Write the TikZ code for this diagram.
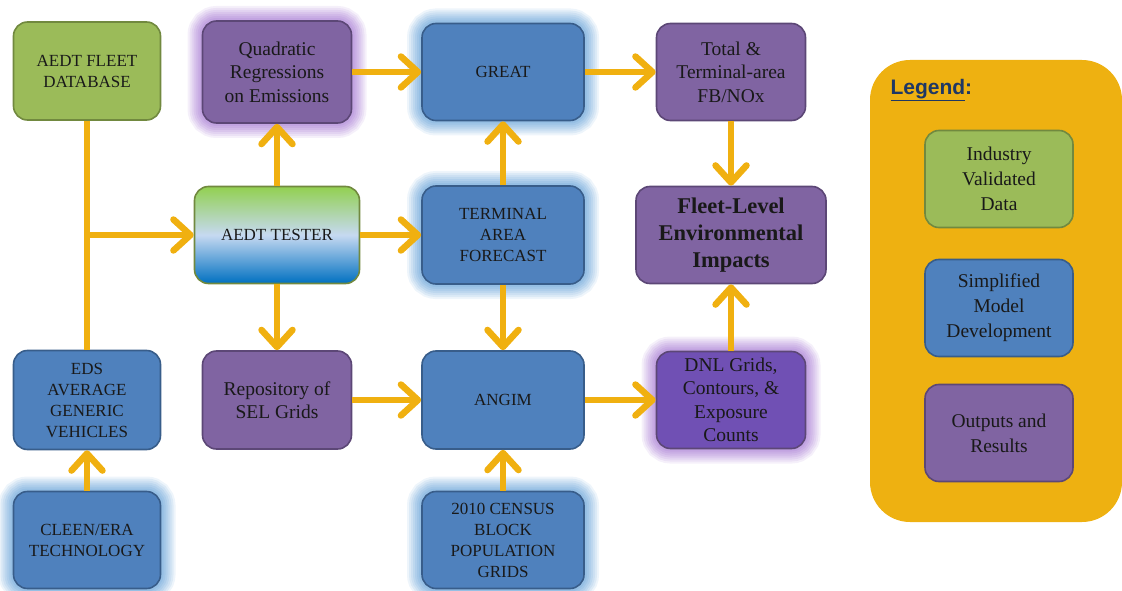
\documentclass[tikz,border=0pt]{standalone}
\usepackage{fontspec}
\setmainfont{Liberation Serif}
\newfontfamily\boxserif{Liberation Serif}
\newfontfamily\legendfont{Liberation Sans}
\usetikzlibrary{arrows.meta}
\definecolor{flowarrow}{HTML}{F0B010}
\definecolor{datagreen}{HTML}{9BBB59}
\definecolor{dataline}{HTML}{71893F}
\definecolor{modelblue}{HTML}{4F81BD}
\definecolor{modelline}{HTML}{385D8A}
\definecolor{outpurple}{HTML}{8064A2}
\definecolor{outline}{HTML}{5C4776}
\definecolor{dnlpurple}{HTML}{7050B4}
\definecolor{glowblue}{HTML}{5B9BD5}
\definecolor{glowpurple}{HTML}{A070D0}
\definecolor{legendback}{HTML}{EEB111}
\definecolor{legendink}{HTML}{1F3864}
\definecolor{testtop}{HTML}{92D050}
\definecolor{testmid}{HTML}{C6D9F1}
\definecolor{testbot}{HTML}{0070C0}
\newcommand{\capsfont}{\boxserif\fontsize{17}{21}\selectfont}
\newcommand{\boxfont}{\boxserif\fontsize{19.5}{23.5}\selectfont}
\newcommand{\keyfont}{\boxserif\fontsize{19.5}{25}\selectfont}

\begin{document}
\begin{tikzpicture}[
  x=1pt,
  y=-1pt,
  box/.style={rounded corners=14pt, line width=1.6pt, align=center,
    inner sep=2pt, text=black!90},
  databox/.style={box, fill=datagreen, draw=dataline},
  modelbox/.style={box, fill=modelblue, draw=modelline},
  outbox/.style={box, fill=outpurple, draw=outline},
  glowing/.style={
    preaction={draw=#1, line width=30pt, opacity=0.10},
    preaction={draw=#1, line width=26pt, opacity=0.12},
    preaction={draw=#1, line width=22pt, opacity=0.12},
    preaction={draw=#1, line width=18pt, opacity=0.14},
    preaction={draw=#1, line width=14pt, opacity=0.14},
    preaction={draw=#1, line width=10pt, opacity=0.16},
    preaction={draw=#1, line width=6pt, opacity=0.16}},
  flow/.style={draw=flowarrow, line width=6.5pt,
    -{Straight Barb[length=17pt, width=31pt, round]}}
]
  \useasboundingbox (0,0) rectangle (1122,591);

  % left column
  \node[databox, minimum width=147pt, minimum height=98pt, font=\capsfont]
    (fleetdb) at (87,71) {AEDT FLEET\\DATABASE};
  \node[modelbox, minimum width=147pt, minimum height=99pt, font=\capsfont]
    (eds) at (87,400) {EDS\\AVERAGE\\GENERIC\\VEHICLES};
  \node[modelbox, glowing=glowblue, minimum width=147pt, minimum height=97pt,
    font=\capsfont] (cleen) at (87,540) {CLEEN/ERA\\TECHNOLOGY};

  % second column
  \node[outbox, glowing=glowpurple, minimum width=149pt, minimum height=102pt,
    font=\boxfont] (quad) at (277,72) {Quadratic\\Regressions\\on Emissions};
  \node[box, draw=dataline, top color=testtop, bottom color=testbot,
    middle color=testmid, minimum width=165pt, minimum height=97pt,
    font=\capsfont] (tester) at (277,235) {AEDT TESTER};
  \node[outbox, minimum width=149pt, minimum height=98pt, font=\boxfont]
    (sel) at (277,400) {Repository of\\SEL Grids};

  % third column
  \node[modelbox, glowing=glowblue, minimum width=162pt, minimum height=97pt,
    font=\capsfont] (great) at (503,72) {GREAT};
  \node[modelbox, glowing=glowblue, minimum width=162pt, minimum height=98pt,
    font=\capsfont] (taf) at (503,235) {TERMINAL\\AREA\\FORECAST};
  \node[modelbox, minimum width=162pt, minimum height=98pt, font=\capsfont]
    (angim) at (503,400) {ANGIM};
  \node[modelbox, glowing=glowblue, minimum width=162pt, minimum height=97pt,
    font=\capsfont] (census) at (503,540) {2010 CENSUS\\BLOCK\\POPULATION\\GRIDS};

  % outputs
  \node[outbox, minimum width=149pt, minimum height=97pt, font=\boxfont]
    (total) at (731,72) {Total \&\\Terminal-area\\FB/NOx};
  \node[outbox, minimum width=190pt, minimum height=97pt,
    font=\boxserif\fontsize{22.5}{27}\selectfont\bfseries]
    (impacts) at (731,235) {Fleet-Level\\Environmental\\Impacts};
  \node[outbox, fill=dnlpurple, glowing=glowpurple, minimum width=149pt,
    minimum height=97pt, font=\boxfont]
    (dnl) at (731,400) {DNL Grids,\\Contours, \&\\Exposure\\Counts};

  % connectors
  \coordinate (split) at (fleetdb.south |- tester.west);
  \draw[draw=flowarrow, line width=6.5pt] (fleetdb.south) -- (eds.north);
  \draw[flow] (split) -- (tester.west);
  \draw[flow] (tester.north) -- (quad.south);
  \draw[flow] (tester.east) -- (taf.west);
  \draw[flow] (tester.south) -- (sel.north);
  \draw[flow] (quad.east) -- (great.west);
  \draw[flow] (great.east) -- (total.west);
  \draw[flow] (taf.north) -- (great.south);
  \draw[flow] (taf.south) -- (angim.north);
  \draw[flow] (sel.east) -- (angim.west);
  \draw[flow] (angim.east) -- (dnl.west);
  \draw[flow] (census.north) -- (angim.south);
  \draw[flow] (cleen.north) -- (eds.south);
  \draw[flow] (total.south) -- (impacts.north);
  \draw[flow] (dnl.north) -- (impacts.south);

  % legend
  \node[fill=legendback, rounded corners=40pt, minimum width=252pt,
    minimum height=462pt] (legend) at (996,291) {};
  \node[anchor=west, text=legendink, font=\legendfont\fontsize{21}{24}\selectfont\bfseries]
    (legendtitle) at (887,90) {\underline{Legend}:};
  \node[databox, minimum width=148pt, minimum height=97pt, font=\keyfont]
    (keydata) at (999,179) {Industry\\Validated\\Data};
  \node[modelbox, minimum width=148pt, minimum height=97pt, font=\keyfont]
    (keymodel) at (999,308) {Simplified\\Model\\Development};
  \node[outbox, minimum width=148pt, minimum height=97pt, font=\keyfont]
    (keyout) at (999,433) {Outputs and\\Results};
\end{tikzpicture}
\end{document}
